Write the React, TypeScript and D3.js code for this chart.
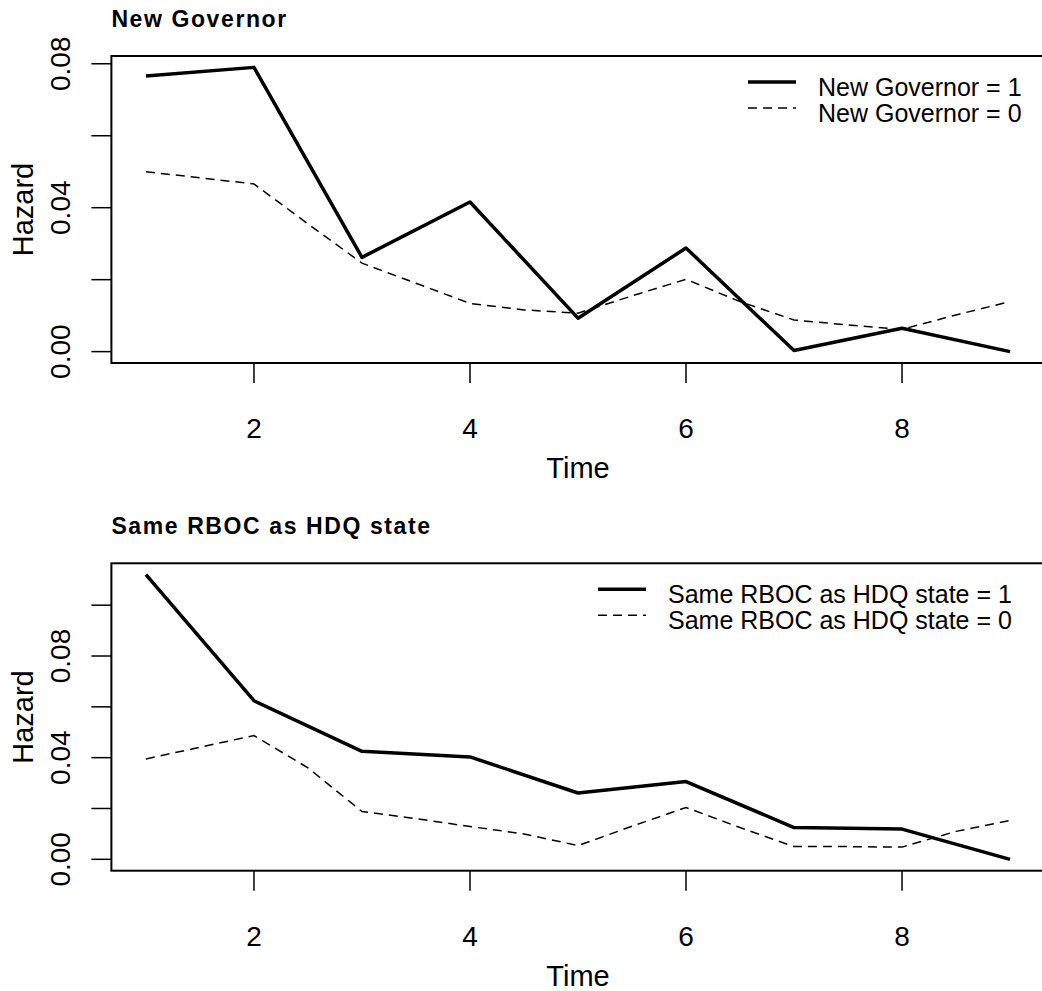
import React from "react"
import * as d3 from "d3"

const width = 1042
const height = 991
const font = "'Liberation Sans', Arial, sans-serif"

// time points
const times = [1, 2, 3, 4, 5, 6, 7, 8, 9]
const halfTimes = [1, 1.5, 2, 2.5, 3, 3.5, 4, 4.5, 5, 5.5, 6, 6.5, 7, 7.5, 8, 8.5, 9]
const xTicks = [2, 4, 6, 8]

// panel 1: New Governor
const govTitle = "New Governor"
const govLegend = ["New Governor = 1", "New Governor = 0"]
const govOne = [0.0766, 0.079, 0.0262, 0.0416, 0.0093, 0.0288, 0.0003, 0.0065, 0.0]
const govZero = [0.05, 0.0483, 0.0466, 0.0355, 0.0246, 0.019, 0.0134, 0.0116, 0.0107,
  0.0155, 0.0201, 0.0139, 0.0088, 0.0074, 0.0062, 0.0102, 0.0139]

// panel 2: Same RBOC as HDQ state
const rbocTitle = "Same RBOC as HDQ state"
const rbocLegend = ["Same RBOC as HDQ state = 1", "Same RBOC as HDQ state = 0"]
const rbocOne = [0.112, 0.0624, 0.0425, 0.0403, 0.0261, 0.0306, 0.0125, 0.0119, 0.0]
const rbocZero = [0.0395, 0.0441, 0.0487, 0.036, 0.0188, 0.016, 0.0129, 0.01, 0.0054,
  0.013, 0.0204, 0.0125, 0.005, 0.005, 0.0048, 0.011, 0.0153]

const left = 111.4
const right = 1044.6

const xScale = d3.scaleLinear().domain([0.68, 9.32]).range([left, right])

const Panel = ({ top, bottom, title, legend, one, zero, legendX, legendY }) => {
  const all = one.concat(zero)
  const lo = d3.min(all)
  const hi = d3.max(all)
  const pad = (hi - lo) * 0.04
  const y = d3.scaleLinear().domain([lo - pad, hi + pad]).range([bottom, top])
  const yTicks = d3.range(0, y.domain()[1], 0.02)

  const solid = d3.line().x((d, i) => xScale(times[i])).y(d => y(d))
  const dashed = d3.line().x((d, i) => xScale(halfTimes[i])).y(d => y(d))

  return (
    <g>
      <text x={left} y={top - 29} fontFamily={font} fontWeight="bold" fontSize={23}
        letterSpacing={1.6}>{title}</text>
      <rect x={left} y={top} width={right - left} height={bottom - top}
        fill="none" stroke="black" strokeWidth={2} />

      {yTicks.map((t, i) => (
        <g key={i}>
          <line x1={left - 20} x2={left} y1={y(t)} y2={y(t)} stroke="black" strokeWidth={1.5} />
          {i % 2 === 0 &&
            <text transform={`translate(70,${y(t)}) rotate(-90)`} textAnchor="middle"
              fontFamily={font} fontSize={28}>{d3.format(".2f")(t)}</text>}
        </g>
      ))}
      <text transform={`translate(33,${(top + bottom) / 2}) rotate(-90)`} textAnchor="middle"
        fontFamily={font} fontSize={29}>Hazard</text>

      {xTicks.map(t => (
        <g key={t}>
          <line x1={xScale(t)} x2={xScale(t)} y1={bottom} y2={bottom + 20} stroke="black" strokeWidth={1.5} />
          <text x={xScale(t)} y={bottom + 75} textAnchor="middle"
            fontFamily={font} fontSize={28}>{t}</text>
        </g>
      ))}
      <text x={(left + right) / 2} y={bottom + 115} textAnchor="middle"
        fontFamily={font} fontSize={29}>Time</text>

      <path d={dashed(zero)} fill="none" stroke="black" strokeWidth={1.5} strokeDasharray="9,6" />
      <path d={solid(one)} fill="none" stroke="black" strokeWidth={3.5} strokeLinejoin="round" />

      <line x1={legendX - 70} x2={legendX - 22} y1={legendY - 14} y2={legendY - 14}
        stroke="black" strokeWidth={3.5} />
      <line x1={legendX - 70} x2={legendX - 22} y1={legendY + 12} y2={legendY + 12}
        stroke="black" strokeWidth={1.5} strokeDasharray="9,6" />
      <text x={legendX} y={legendY} fontFamily={font} fontSize={25}>{legend[0]}</text>
      <text x={legendX} y={legendY + 25.7} fontFamily={font} fontSize={25}>{legend[1]}</text>
    </g>
  )
}

const App = () => (
  <svg width={width} height={height} style={{ position: "absolute", left: 0, top: 0, background: "white" }}>
    <rect width={width} height={height} fill="white" />
    <Panel top={56} bottom={363} title={govTitle} legend={govLegend}
      one={govOne} zero={govZero} legendX={818} legendY={96} />
    <Panel top={563.3} bottom={870.7} title={rbocTitle} legend={rbocLegend}
      one={rbocOne} zero={rbocZero} legendX={668} legendY={603.3} />
  </svg>
)

export default App
